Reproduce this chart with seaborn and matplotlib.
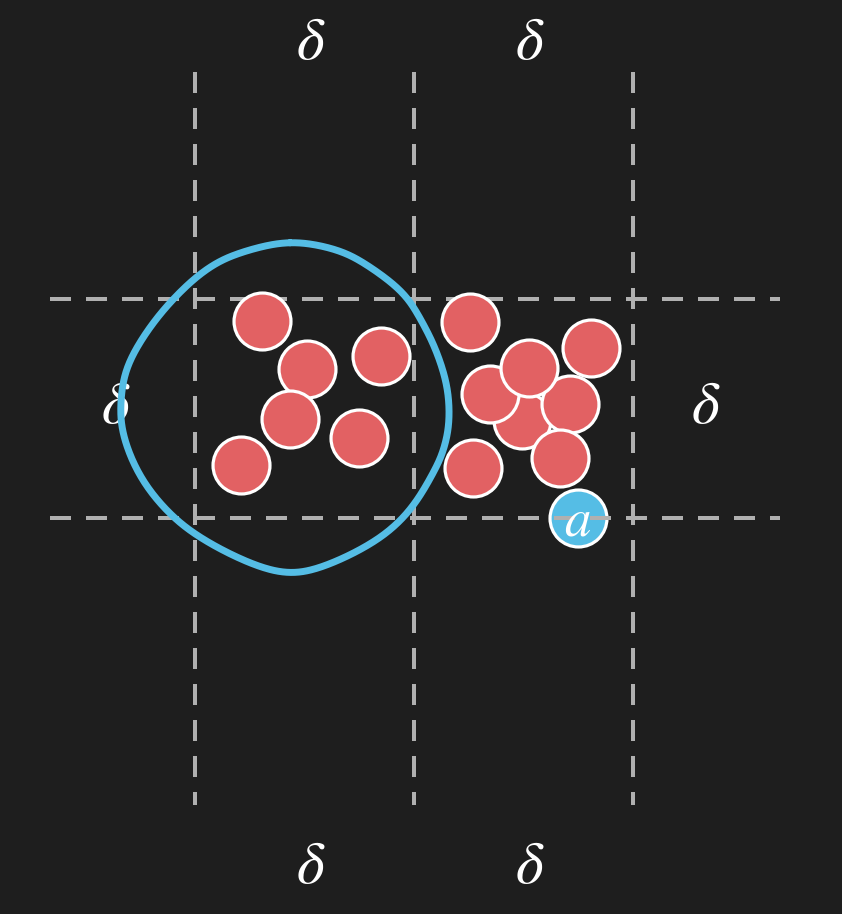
import numpy as np
import pandas as pd
import matplotlib
matplotlib.use("Agg")
import matplotlib.pyplot as plt
import seaborn as sns

# ---- data (units: one grid cell = delta) ----
red_x = [1.493, 0.306, 0.511, 0.849, 0.434, 0.749, 0.210,
         1.256, 1.808, 1.347, 1.712, 1.525, 1.269, 1.667]
red_y = [0.447, 0.900, 0.680, 0.740, 0.452, 0.365, 0.242,
         0.895, 0.776, 0.566, 0.521, 0.685, 0.228, 0.274]
query_x = [1.749]
query_y = [0.0]
query_label = ["a"]

grid_v = [0.0, 1.0, 2.0]
grid_h = [0.0, 1.0]
grid_v_span = (2.037, -1.311)
grid_h_span = (-0.662, 2.671)

delta_x = [0.53, 1.53, 0.53, 1.53, -0.36, 2.33]
delta_y = [2.17, 2.17, -1.59, -1.59, 0.51, 0.51]
delta_label = ["δ"] * 6

# hand-drawn neighbourhood loop (points, closed)
loop_x = [0.434, 0.648, 0.799, 0.950, 1.037, 1.105, 1.151, 1.160, 1.137, 1.087,
          0.982, 0.831, 0.603, 0.420, 0.219, -0.009, -0.160, -0.265, -0.329,
          -0.338, -0.306, -0.205, -0.073, 0.068, 0.219]
loop_y = [1.260, 1.224, 1.146, 1.027, 0.895, 0.753, 0.598, 0.447, 0.320, 0.205,
          0.037, -0.100, -0.215, -0.251, -0.192, -0.068, 0.068, 0.219, 0.388,
          0.539, 0.699, 0.872, 1.027, 1.146, 1.215]

RED = "#e26163"
BLUE = "#55bde5"
GRIDC = "#b0b0b0"
BG = "#1e1e1e"


def closed_catmull_rom(xs, ys, n=30, smooth=25):
    p = np.column_stack([xs, ys])
    m = len(p)
    out = []
    for i in range(m):
        p0, p1, p2, p3 = p[(i - 1) % m], p[i], p[(i + 1) % m], p[(i + 2) % m]
        t = np.linspace(0, 1, n, endpoint=False)[:, None]
        seg = 0.5 * ((2 * p1) + (-p0 + p2) * t + (2 * p0 - 5 * p1 + 4 * p2 - p3) * t ** 2
                     + (-p0 + 3 * p1 - 3 * p2 + p3) * t ** 3)
        out.append(seg)
    out = np.vstack(out)
    # circular moving-average smoothing of the hand-drawn stroke
    k = np.ones(smooth) / smooth
    pad = smooth
    ext = np.vstack([out[-pad:], out, out[:pad]])
    sx = np.convolve(ext[:, 0], k, mode="same")[pad:-pad]
    sy = np.convolve(ext[:, 1], k, mode="same")[pad:-pad]
    sx = np.append(sx, sx[0])
    sy = np.append(sy, sy[0])
    return sx, sy


sns.set_theme(style="white")
plt.rcParams["mathtext.fontset"] = "stix"
W, H = 842, 914
fig = plt.figure(figsize=(W / 100, H / 100), dpi=100, facecolor=BG)
ax = fig.add_axes([0, 0, 1, 1])
ax.set_facecolor(BG)

px = 1 / 219.0  # one pixel in delta units
ax.set_xlim(-195 * px, (W - 195) * px)
ax.set_ylim(-(H - 518) * px, 518 * px)
ax.set_aspect("equal")
ax.axis("off")

lw_grid = 4 * 0.72
for gx in grid_v:
    ax.plot([gx, gx], list(grid_v_span), color=GRIDC, lw=lw_grid,
            dashes=(5.25, 3.75), dash_capstyle="butt", zorder=2)
for gy in grid_h:
    ax.plot(list(grid_h_span), [gy, gy], color=GRIDC, lw=lw_grid,
            dashes=(5.25, 3.75), dash_capstyle="butt", zorder=2)

# query point (beneath grid)
qdf = pd.DataFrame({"x": query_x, "y": query_y})
sns.scatterplot(data=qdf, x="x", y="y", s=1681, color=BLUE, edgecolor="white",
                linewidth=2.3, ax=ax, zorder=1, legend=False)

# red points
rdf = pd.DataFrame({"x": red_x, "y": red_y})
sns.scatterplot(data=rdf, x="x", y="y", s=1681, color=RED, edgecolor="white",
                linewidth=2.3, ax=ax, zorder=3, legend=False)

for tx, ty, lab in zip(delta_x, delta_y, delta_label):
    ax.text(tx, ty, r"$\delta$", color="white", fontsize=43,
            ha="center", va="center", zorder=3)

lx, ly = closed_catmull_rom(loop_x, loop_y)
ax.plot(lx, ly, color=BLUE, lw=5.0, solid_capstyle="round", zorder=4)

for tx, ty, lab in zip(query_x, query_y, query_label):
    ax.text(tx, ty - 3 * px, "$" + lab + "$", color="white", fontsize=38,
            ha="center", va="center", zorder=5)

fig.savefig("out.png", dpi=100, facecolor=BG)
